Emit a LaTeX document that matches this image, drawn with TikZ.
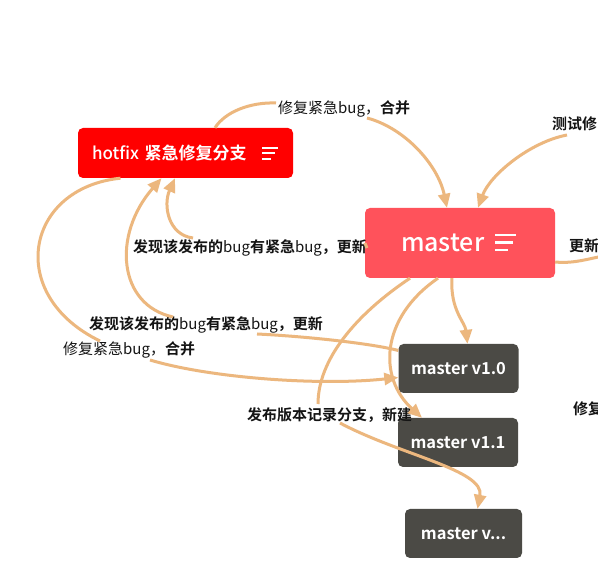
\documentclass[tikz,border=0pt]{standalone}
\usepackage{fontspec}
\setmainfont{Noto Sans CJK SC}[BoldFont={Noto Sans CJK SC Bold}]
\newfontfamily\mediumfont{Noto Sans CJK SC Medium}
\usetikzlibrary{arrows.meta,calc}

\definecolor{hotfixred}{RGB}{255,0,0}
\definecolor{masterred}{RGB}{255,82,91}
\definecolor{versiongray}{RGB}{75,74,69}
\definecolor{linktan}{RGB}{236,183,126}
\definecolor{labelblack}{RGB}{20,20,20}

\newcommand{\regtext}[1]{{\mdseries #1}}

\tikzset{
  box/.style={rounded corners=5pt, inner ysep=0pt, text=white},
  hotfixbox/.style={box, fill=hotfixred, minimum width=215pt, minimum height=50pt,
    inner xsep=14pt, text width=187pt, align=left, font=\fontsize{17}{20}\selectfont},
  masterbox/.style={box, fill=masterred, minimum width=190pt, minimum height=70pt,
    inner xsep=36pt, text width=118pt, align=left, font=\fontsize{25}{28}\selectfont\mediumfont},
  versionbox/.style={box, fill=versiongray, minimum width=120pt, minimum height=49pt,
    inner xsep=0pt, font=\fontsize{16.5}{19}\selectfont\bfseries},
  edgelabel/.style={anchor=west, inner sep=0pt, text=labelblack,
    font=\fontsize{15}{18}\selectfont\bfseries},
  iconline/.style={white, line width=2pt},
  link/.style={draw=linktan, line width=3pt},
  linkarrow/.style={link, -{Triangle[length=14pt,width=12pt]}},
}

\begin{document}
\begin{tikzpicture}[x=1pt, y=-1pt]
    \useasboundingbox (0,0) rectangle (598,585);
    \fill[white] (0,0) rectangle (598,585);
    \clip (0,0) rectangle (598,585);

    % 分支节点
    \node[hotfixbox] (hotfix) at (185.5,153) {{\mediumfont hotfix} {\bfseries 紧急修复分支}};
    \node[masterbox] (master) at (460,243) {master};
    \node[versionbox] (v10) at (458.5,368.5) {master v1.0};
    \node[versionbox] (v11) at (458,442.5) {master v1.1};
    \node[versionbox, minimum width=117pt] (vdots) at (463.5,533.5) {master v...};

    % 节点里的菜单图标
    \draw[iconline] ($(hotfix.east)+(-31,-5)$) -- ++(16,0);
    \draw[iconline] ($(hotfix.east)+(-31,0.5)$) -- ++(13,0);
    \draw[iconline] ($(hotfix.east)+(-31,6)$) -- ++(9,0);
    \draw[iconline, line width=2.5pt] ($(master.east)+(-60,-8)$) -- ++(21,0);
    \draw[iconline, line width=2.5pt] ($(master.east)+(-60,-0.5)$) -- ++(18,0);
    \draw[iconline, line width=2.5pt] ($(master.east)+(-60,7)$) -- ++(13,0);

    % 连线上的文字
    \node[edgelabel] (fixtop) at (278,109) {\regtext{修复紧急bug，}合并};
    \node[edgelabel] (testfix) at (552,124) {测试修};
    \node[edgelabel] (update) at (569,246) {更新};
    \node[edgelabel] (fixright) at (573,409) {修复};
    \node[edgelabel] (foundup) at (133,248) {发现该发布的\regtext{bug}有紧急\regtext{bug}，更新};
    \node[edgelabel] (foundlow) at (89,325) {发现该发布的\regtext{bug}有紧急\regtext{bug}，更新};
    \node[edgelabel] (fixlow) at (63,350) {\regtext{修复紧急bug，}合并};
    \node[edgelabel] (release) at (247,415) {发布版本记录分支，新建};

    % hotfix -> master
    \draw[link] ($(hotfix.north)+(29.5,0)$) .. controls (225,112) and (250,102) .. ($(fixtop.west)+(-2,-6)$);
    \draw[linkarrow] ($(fixtop.west)+(89,9)$) .. controls (405,128) and (438,165) .. ($(master.north)+(-13,0)$);

    % 右侧进出 master
    \draw[linkarrow] ($(testfix.west)+(15,11)$) .. controls (530,142) and (490,175) .. ($(master.north)+(18,0)$);
    \draw[link] ($(master.east)+(0,19)$) .. controls (575,264) and (590,258) .. ($(update.west)+(40,9)$);

    % master -> hotfix
    \draw[link] (master.west) -- (foundup.east);
    \draw[linkarrow] ($(foundup.west)+(60,-10)$) .. controls (168,235) and (163,205) .. ($(hotfix.south)+(-10.5,0)$);

    % v1.0 -> hotfix
    \draw[link] ($(v10.west)+(0,-18)$) .. controls (370,343) and (300,336) .. ($(foundlow.west)+(168,9)$);
    \draw[linkarrow] ($(foundlow.west)+(84,-8)$) .. controls (118,305) and (112,235) .. ($(hotfix.south)+(-24,0)$);

    % hotfix -> v1.0
    \draw[link] ($(hotfix.south)+(-65,0)$) .. controls (25,188) and (5,295) .. ($(fixlow.west)+(37,-9)$);
    \draw[linkarrow] ($(fixlow.west)+(87,10)$) .. controls (210,378) and (320,386) .. ($(v10.west)+(0,9)$);

    % master -> 各发布版本
    \draw[linkarrow] ($(master.south)+(-8,0)$) .. controls (450,310) and (465,322) .. ($(v10.north)+(9,0)$);
    \draw[linkarrow] ($(master.south)+(-22,0)$) .. controls (380,318) and (378,378) .. ($(v11.north)+(-36,0)$);
    \draw[link] ($(master.south)+(-50,0)$) .. controls (355,315) and (318,360) .. ($(release.west)+(71,-11)$);
    \draw[linkarrow] ($(release.west)+(93,8)$) .. controls (400,455) and (485,470) .. ($(vdots.north)+(14,0)$);
\end{tikzpicture}
\end{document}
